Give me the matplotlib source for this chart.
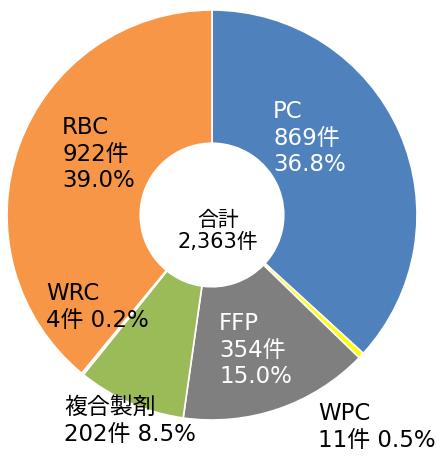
import matplotlib.pyplot as plt

plt.rcParams['font.family'] = ['DejaVu Sans', 'Noto Sans CJK JP']

names = ["PC", "WPC", "FFP", "複合製剤", "WRC", "RBC"]
counts = [869, 11, 354, 202, 4, 922]
shares = ["36.8%", "0.5%", "15.0%", "8.5%", "0.2%", "39.0%"]
colors = ["#4F81BD", "#FFFF00", "#7F7F7F", "#9BBB59", "#F2F2F2", "#F79646"]
total = 2363  # as printed in the chart

W, H = 444, 463
fig = plt.figure(figsize=(W / 100, H / 100), dpi=100)
ax = fig.add_axes([0, 0, 1, 1])

cx, cy, r = 212, H - 215, 205
ax.pie(counts, colors=colors, startangle=90, counterclock=False,
       center=(cx, cy), radius=r, frame=True,
       wedgeprops=dict(width=r * 0.65, edgecolor='white', linewidth=1.2))
ax.set_xlim(0, W)
ax.set_ylim(0, H)
ax.axis('off')

fs = 16.5
# label positions (top-left, pixels from top) and colours
spots = {
    "PC": (273, 100, 'white', 3),
    "WPC": (318, 402, 'black', 2),
    "FFP": (219, 312, 'white', 3),
    "複合製剤": (64, 396, 'black', 2),
    "WRC": (46, 282, 'black', 2),
    "RBC": (62, 116, 'black', 3),
}
for name, n, s in zip(names, counts, shares):
    x, y, col, lines = spots[name]
    if lines == 3:
        txt = f"{name}\n{n}件\n{s}"
    else:
        txt = f"{name}\n{n}件 {s}"
    ax.text(x, H - y, txt, color=col, fontsize=fs, ha='left', va='top',
            linespacing=1.2)

ax.text(cx + 6, H - 231, f"合計\n{total:,}件", fontsize=15, ha='center',
        va='center', linespacing=1.1)

fig.savefig("out.png", dpi=100)
